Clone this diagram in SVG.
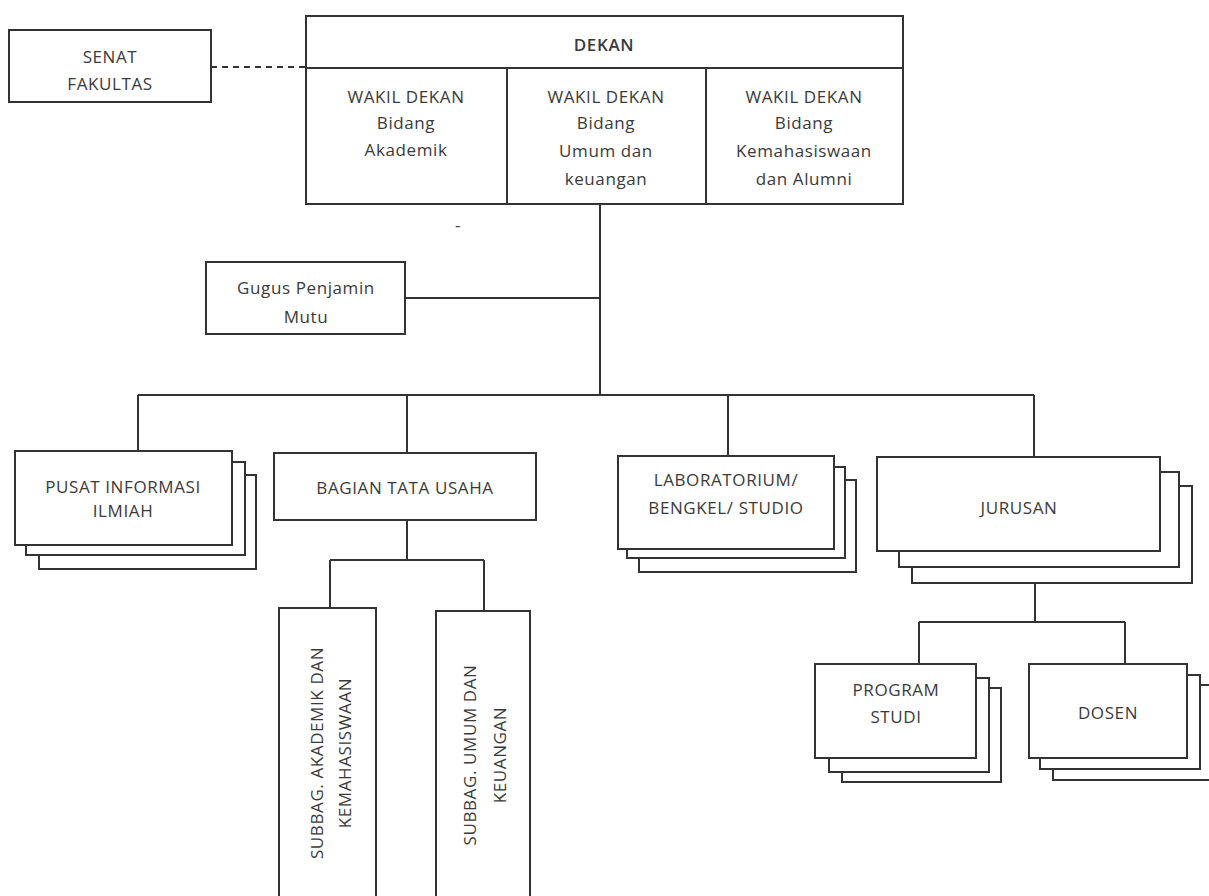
<svg xmlns="http://www.w3.org/2000/svg" width="1209" height="896" viewBox="0 0 1209 896">
<style>
.b{fill:#fff;stroke:#333;stroke-width:2}
.l{fill:none;stroke:#333;stroke-width:2}
.d{fill:none;stroke:#333;stroke-width:2;stroke-dasharray:6 5}
text{font-family:"Open Sans","Liberation Sans",sans-serif;font-size:17px;letter-spacing:0.6px;fill:#3a3a3a;text-anchor:middle}
.bold{font-weight:600}
</style>
<rect width="1209" height="896" fill="#fff"/>
<g id="connectors">
<path class="d" d="M211 67H306"/>
<path class="l" d="M600 204V395M405 298H600M138 395H1034M138 395V451M407 395V453M728 395V456M1034 395V457"/>
<path class="l" d="M407 520V560M330 560H484M330 560V608M484 560V611"/>
<path class="l" d="M1035 583V622M919 622H1125M919 622V664M1125 622V664"/>
</g>
<g id="senat">
<rect class="b" x="9" y="30" width="202" height="72"/>
<text x="110" y="63">SENAT</text>
<text x="110" y="90">FAKULTAS</text>
</g>
<g id="dekan">
<rect class="b" x="306" y="16" width="597" height="188"/>
<path class="l" d="M306 68H903M507 68V204M706 68V204"/>
<text class="bold" x="604" y="51">DEKAN</text>
</g>
<g id="wd1">
<text x="406" y="103">WAKIL DEKAN</text>
<text x="406" y="129">Bidang</text>
<text x="406" y="156">Akademik</text>
</g>
<g id="wd2">
<text x="606" y="103">WAKIL DEKAN</text>
<text x="606" y="129">Bidang</text>
<text x="606" y="157">Umum dan</text>
<text x="606" y="185">keuangan</text>
</g>
<g id="wd3">
<text x="804" y="103">WAKIL DEKAN</text>
<text x="804" y="129">Bidang</text>
<text x="804" y="157">Kemahasiswaan</text>
<text x="804" y="185">dan Alumni</text>
</g>
<text x="458" y="231">-</text>
<g id="gugus">
<rect class="b" x="206" y="262" width="199" height="72"/>
<text x="306" y="294">Gugus Penjamin</text>
<text x="306" y="323">Mutu</text>
</g>
<g id="pusat">
<rect class="b" x="39" y="475" width="217" height="94"/>
<rect class="b" x="26" y="462" width="219" height="93"/>
<rect class="b" x="15" y="451" width="217" height="94"/>
<text x="123" y="493">PUSAT INFORMASI</text>
<text x="123" y="517">ILMIAH</text>
</g>
<g id="bagian">
<rect class="b" x="274" y="453" width="262" height="67"/>
<text x="405" y="494">BAGIAN TATA USAHA</text>
</g>
<g id="subbag1">
<rect class="b" x="279" y="608" width="97" height="300"/>
<text transform="translate(323 753) rotate(-90)">SUBBAG. AKADEMIK DAN</text>
<text transform="translate(351 753) rotate(-90)">KEMAHASISWAAN</text>
</g>
<g id="subbag2">
<rect class="b" x="436" y="611" width="94" height="300"/>
<text transform="translate(476 755) rotate(-90)">SUBBAG. UMUM DAN</text>
<text transform="translate(506 755) rotate(-90)">KEUANGAN</text>
</g>
<g id="lab">
<rect class="b" x="639" y="480" width="217" height="92"/>
<rect class="b" x="627" y="467" width="218" height="91"/>
<rect class="b" x="618" y="456" width="216" height="93"/>
<text x="726" y="486">LABORATORIUM/</text>
<text x="726" y="514">BENGKEL/ STUDIO</text>
</g>
<g id="jurusan">
<rect class="b" x="912" y="486" width="280" height="97"/>
<rect class="b" x="899" y="472" width="280" height="95"/>
<rect class="b" x="877" y="457" width="283" height="94"/>
<text x="1019" y="514">JURUSAN</text>
</g>
<g id="prodi">
<rect class="b" x="842" y="688" width="159" height="94"/>
<rect class="b" x="829" y="678" width="160" height="94"/>
<rect class="b" x="815" y="664" width="161" height="94"/>
<text x="896" y="696">PROGRAM</text>
<text x="896" y="723">STUDI</text>
</g>
<g id="dosen">
<rect class="b" x="1053" y="685" width="170" height="95"/>
<rect class="b" x="1040" y="675" width="160" height="94"/>
<rect class="b" x="1029" y="664" width="158" height="94"/>
<text x="1108" y="719">DOSEN</text>
</g>
</svg>
